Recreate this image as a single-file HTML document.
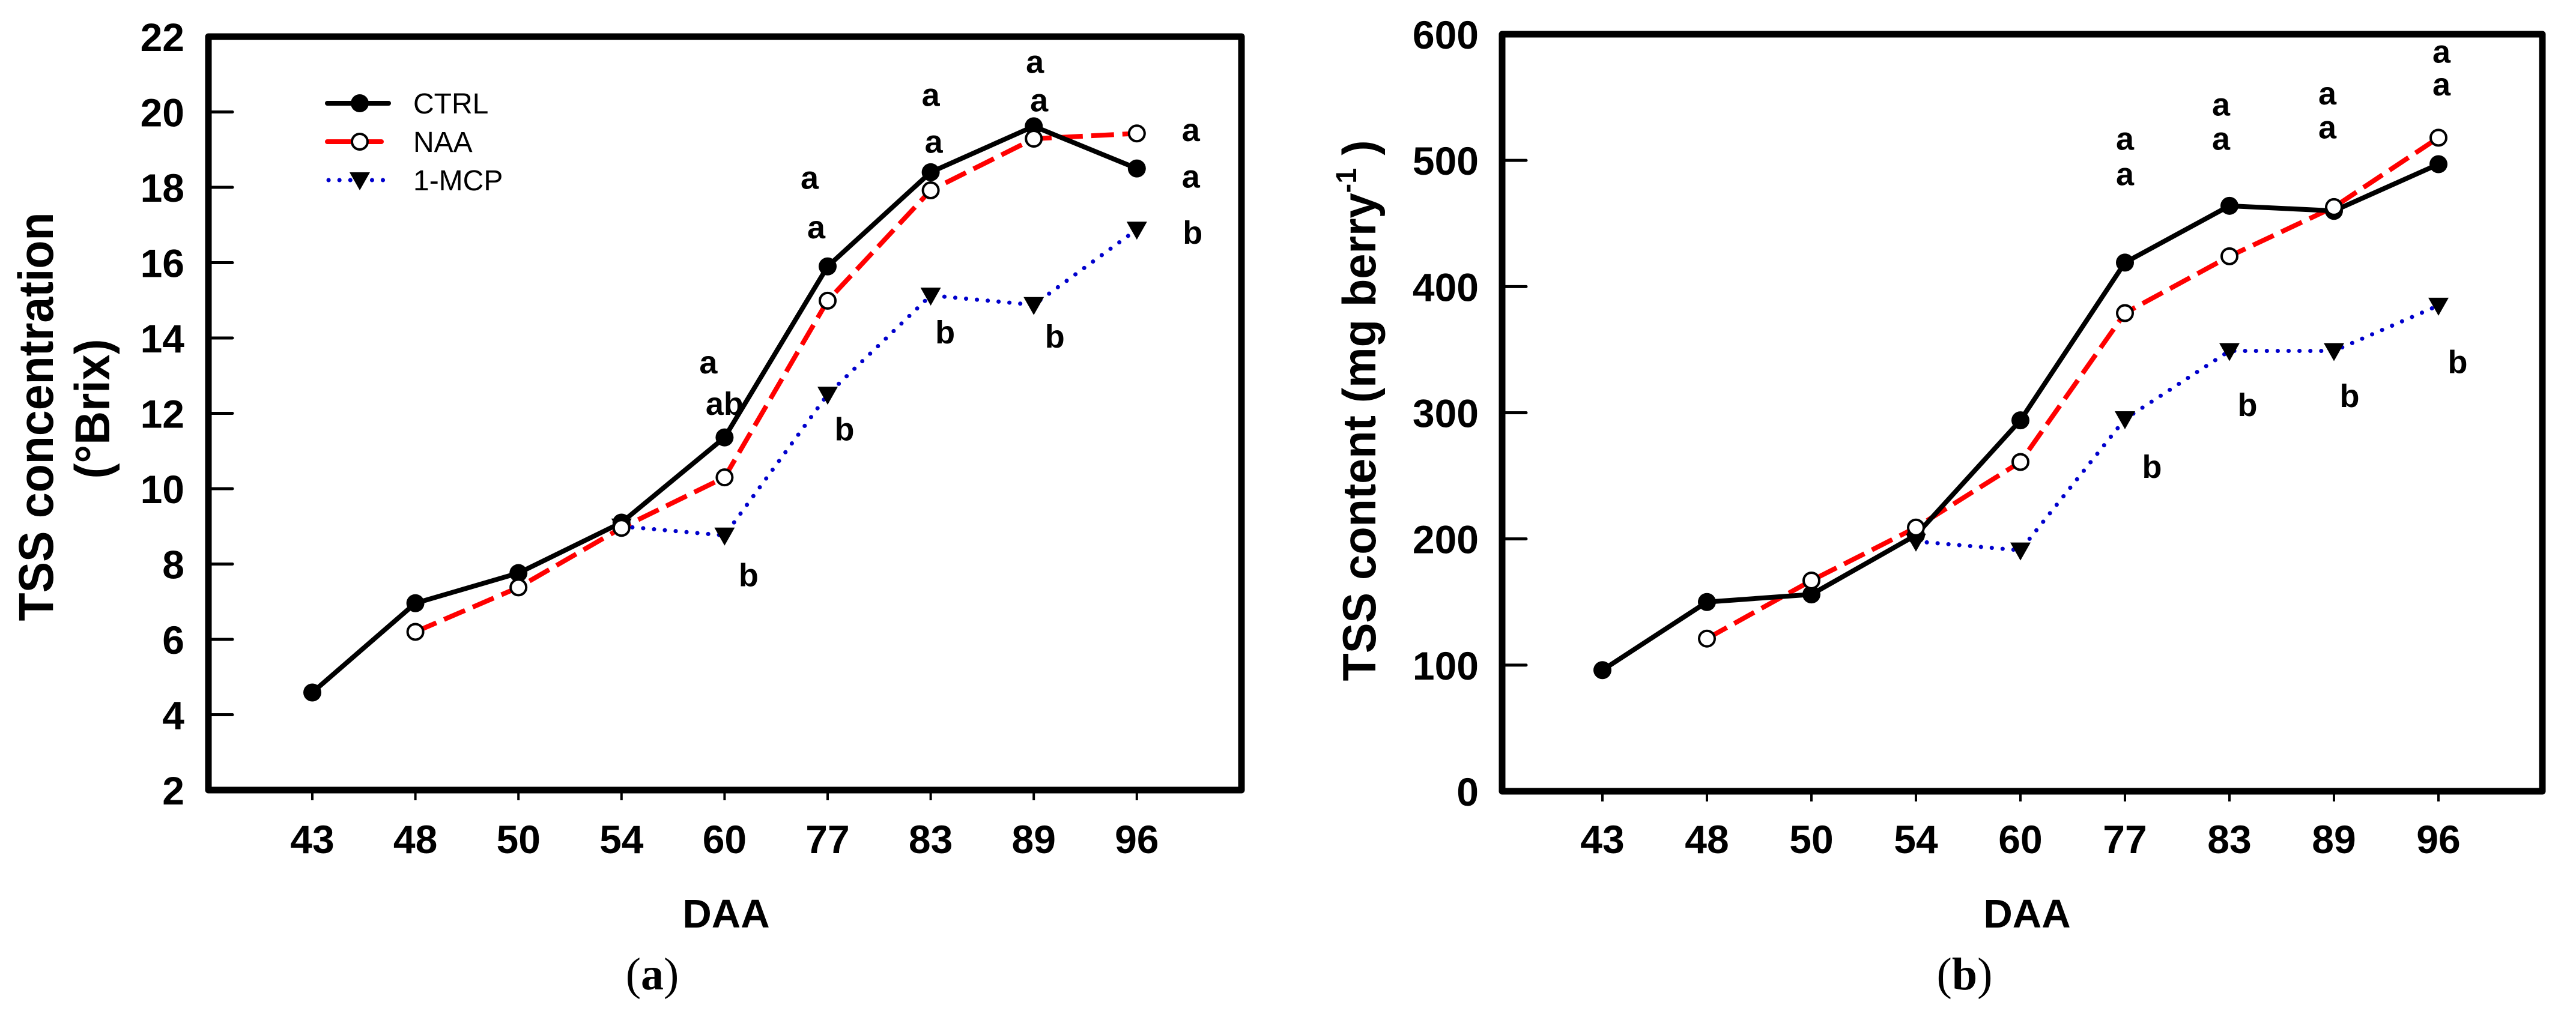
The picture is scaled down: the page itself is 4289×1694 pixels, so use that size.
<!DOCTYPE html>
<html><head><meta charset="utf-8">
<style>
html,body{margin:0;padding:0;background:#fff;}
svg{display:block;}
text{font-family:"Liberation Sans",Arial,sans-serif;}
</style></head>
<body>
<svg id="fig" width="4289" height="1694" viewBox="0 0 4289 1694" xmlns="http://www.w3.org/2000/svg">
  <g id="chartA"></g>
  <g id="chartB"></g>
</svg>
<script>
// ---------- shared data ----------
const categories = ["43","48","50","54","60","77","83","89","96"];

// Chart (a): TSS concentration (°Brix)
const ctrlA = [4.59, 6.96, 7.76, 9.1, 11.36, 15.9, 18.4, 19.62, 18.5];
const naaA  = [null, 6.2, 7.38, 8.96, 10.3, 14.99, 17.92, 19.29, 19.43];
const mcpA  = [null, null, null, 9.0, 8.76, 12.5, 15.13, 14.88, 16.88];
const yTicksA = [2,4,6,8,10,12,14,16,18,20,22];
// significance letters: [category index, value-position, letter, x-offset from tick]
const lettersA = [
  [4, 13.35, "a", -27], [4, 12.25, "ab", 0], [4, 7.7, "b", 40],
  [5, 18.25, "a", -30], [5, 16.93, "a", -19], [5, 11.57, "b", 28],
  [6, 20.45, "a", 0], [6, 19.2, "a", 5], [6, 14.14, "b", 24],
  [7, 21.32, "a", 2], [7, 20.3, "a", 9], [7, 14.03, "b", 35],
  [8, 19.51, "a", 90], [8, 18.28, "a", 90], [8, 16.79, "b", 93]
];

// Chart (b): TSS content (mg berry-1)
const ctrlB = [96, 150, 156, 203, 294, 419, 464, 460, 497];
const naaB  = [null, 121, 167, 209, 261, 379, 424, 463, 518];
const mcpB  = [null, null, null, 198, 191, 295, 349, 349, 385];
const yTicksB = [0,100,200,300,400,500,600];
const lettersB = [
  [5, 517, "a", 0], [5, 489, "a", 0], [5, 257, "b", 45],
  [6, 544, "a", -14], [6, 517, "a", -14], [6, 306, "b", 30],
  [7, 553, "a", -11], [7, 526, "a", -11], [7, 313, "b", 26],
  [8, 586, "a", 5], [8, 560, "a", 5], [8, 340, "b", 32]
];

const NS = "http://www.w3.org/2000/svg";
function mk(parent, tag, attrs){
  const e = document.createElementNS(NS, tag);
  for (const k in attrs) e.setAttribute(k, attrs[k]);
  parent.appendChild(e);
  return e;
}

function drawChart(g, cfg){
  const xScale = i => cfg.x0 + i * cfg.dx;
  const yScale = v => cfg.yBottom - (v - cfg.yMin) / (cfg.yMax - cfg.yMin) * (cfg.yBottom - cfg.yTop);

  const frame = mk(g, "rect", {x:cfg.left, y:cfg.yTop, width:cfg.right-cfg.left, height:cfg.yBottom-cfg.yTop, fill:"none", stroke:"#000", "stroke-width":11, "stroke-linejoin":"round"});
  
  

  cfg.yTicks.forEach(v => {
    const y = yScale(v);
    if (v !== cfg.yMin && v !== cfg.yMax) {
      const t = mk(g, "line", {x1:cfg.left, x2:cfg.left+40, y1:y, y2:y, stroke:"#000", "stroke-width":5, "stroke-linecap":"round"});
      
      
    }
    const lb = mk(g, "text", {x:cfg.yLabelX, y:y+24, "text-anchor":"end", "font-size":66, "font-weight":"bold"});
    lb.textContent = String(v);
    
    
  });

  categories.forEach((c, i) => {
    const x = xScale(i);
    const t = mk(g, "line", {x1:x, x2:x, y1:cfg.yBottom, y2:cfg.yBottom+17, stroke:"#000", "stroke-width":4});
    
    
    const lb = mk(g, "text", {x:x, y:1421, "text-anchor":"middle", "font-size":66, "font-weight":"bold"});
    lb.textContent = c;
    
    
  });

  function line(vals, color, dash, name){
    const pts = [];
    vals.forEach((v,i) => { if (v !== null) pts.push(xScale(i)+","+yScale(v)); });
    const attrs = {points:pts.join(" "), fill:"none", stroke:color, "stroke-width":8, "stroke-linejoin":"round"};
    if (dash) { attrs["stroke-dasharray"] = dash; attrs["stroke-linecap"] = dash==="0.1 18" ? "round" : "butt"; }
    if (dash==="0.1 18") attrs["stroke-width"] = 7;
    const p = mk(g, "polyline", attrs);
    
    
  }
  line(cfg.mcp, "#0000cc", "0.1 18", "series-line-1mcp");
  line(cfg.naa, "#ff0000", "38 14", "series-line-naa");
  line(cfg.ctrl, "#000", null, "series-line-ctrl");

  cfg.mcp.forEach((v,i) => {
    if (v === null) return;
    const x = xScale(i), y = yScale(v);
    const m = mk(g, "polygon", {points:`${x-17},${y-13} ${x+17},${y-13} ${x},${y+17}`, fill:"#000"});
    
    
  });
  cfg.ctrl.forEach((v,i) => {
    if (v === null) return;
    const m = mk(g, "circle", {cx:xScale(i), cy:yScale(v), r:15, fill:"#000"});
    
    
  });
  cfg.naa.forEach((v,i) => {
    if (v === null) return;
    const m = mk(g, "circle", {cx:xScale(i), cy:yScale(v), r:13, fill:"#fff", stroke:"#000", "stroke-width":4});
    
    
  });

  cfg.letters.forEach(([i, v, s, dx]) => {
    const lb = mk(g, "text", {x:xScale(i)+dx, y:yScale(v)+18, "text-anchor":"middle", "font-size":54, "font-weight":"bold"});
    lb.textContent = s;
    
    
  });

  const xt = mk(g, "text", {x:cfg.xTitleX, y:1545, "text-anchor":"middle", "font-size":67, "font-weight":"bold"});
  xt.textContent = "DAA";
  
  

  const pl = mk(g, "text", {x:cfg.panelX, y:1648, "text-anchor":"middle", "font-size":76, style:"font-family:'Liberation Serif',serif"});
  pl.innerHTML = "(<tspan font-weight='bold'>"+cfg.panel+"</tspan>)";
  
  
}

// ---------- chart A ----------
const gA = document.getElementById("chartA");
drawChart(gA, {
  left:347, right:2067, yTop:61, yBottom:1316, yMin:2, yMax:22,
  x0:520, dx:171.6, yLabelX:307, yTicks:yTicksA,
  ctrl:ctrlA, naa:naaA, mcp:mcpA, letters:lettersA,
  xTitleX:1209, panelX:1086, panel:"a"
});
let t1 = mk(gA, "text", {transform:"translate(88,694) rotate(-90)", "text-anchor":"middle", "font-size":82, "font-weight":"bold", textLength:681, lengthAdjust:"spacingAndGlyphs"});
t1.textContent = "TSS concentration";


let t2 = mk(gA, "text", {transform:"translate(182,681) rotate(-90)", "text-anchor":"middle", "font-size":82, "font-weight":"bold", textLength:233, lengthAdjust:"spacingAndGlyphs"});
t2.textContent = "(°Brix)";



const leg = mk(gA, "g", {});


const legItems = [["CTRL", 172, "ctrl"], ["NAA", 236, "naa"], ["1-MCP", 300, "mcp"]];
legItems.forEach(([label, y, key]) => {
  const e = mk(leg, "g", {});
  
  
  if (key === "ctrl") {
    mk(e, "line", {x1:545, x2:647, y1:y, y2:y, stroke:"#000", "stroke-width":8, "stroke-linecap":"round"});
    mk(e, "circle", {cx:599, cy:y, r:15, fill:"#000"});
  } else if (key === "naa") {
    mk(e, "line", {x1:545, x2:647, y1:y, y2:y, stroke:"#f00", "stroke-width":8, "stroke-dasharray":"38 14", "stroke-linecap":"round"});
    mk(e, "circle", {cx:599, cy:y, r:13, fill:"#fff", stroke:"#000", "stroke-width":4});
  } else {
    mk(e, "line", {x1:547, x2:647, y1:y, y2:y, stroke:"#0000cc", "stroke-width":7, "stroke-dasharray":"0.1 18", "stroke-linecap":"round"});
    mk(e, "polygon", {points:`${582},${y-13} ${616},${y-13} ${599},${y+17}`, fill:"#000"});
  }
  const tx = mk(e, "text", {x:688, y:y+17, "font-size":48});
  tx.textContent = label;
});

// ---------- chart B ----------
const gB = document.getElementById("chartB");
drawChart(gB, {
  left:2501, right:4233, yTop:57, yBottom:1318, yMin:0, yMax:600,
  x0:2668, dx:174, yLabelX:2462, yTicks:yTicksB,
  ctrl:ctrlB, naa:naaB, mcp:mcpB, letters:lettersB,
  xTitleX:3375, panelX:3271, panel:"b"
});
let t3 = mk(gB, "text", {transform:"translate(2290,684) rotate(-90)", "text-anchor":"middle", "font-size":78, "font-weight":"bold", textLength:901, lengthAdjust:"spacingAndGlyphs"});
t3.innerHTML = "TSS content  (mg berry<tspan font-size='48' dy='-32'>-1</tspan><tspan dy='32'> )</tspan>";


</script>
</body></html>
